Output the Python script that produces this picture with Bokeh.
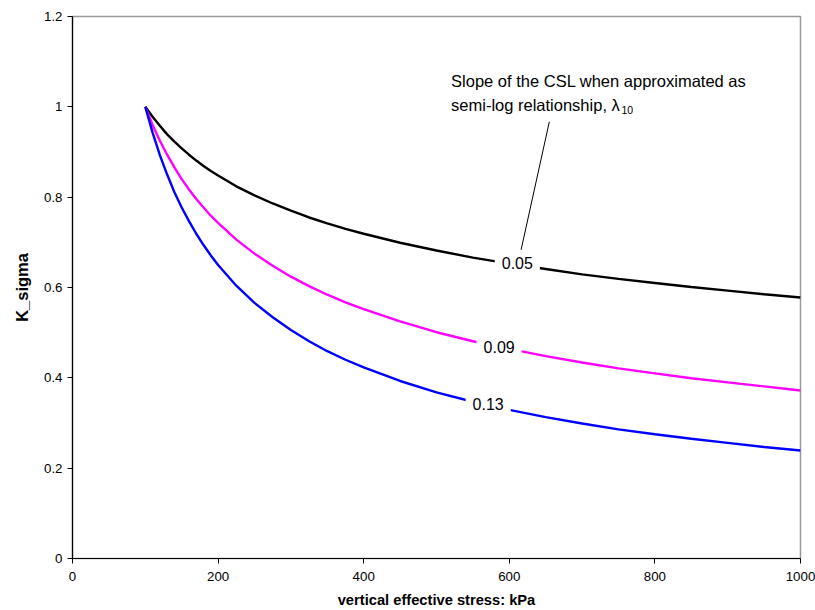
from bokeh.plotting import figure
from bokeh.models import Range1d, Label, FixedTicker, Segment, ColumnDataSource
from bokeh.embed import file_html
from bokeh.resources import INLINE

# Data
stress = [100, 110, 120, 130, 140, 150, 160, 170, 180, 190, 200, 225, 250, 275, 300,
          325, 350, 375, 400, 450, 500, 550, 600, 650, 700, 750, 800, 850, 900, 950, 1000]
k_005 = [1.0, 0.978, 0.958, 0.939, 0.923, 0.908, 0.894, 0.881, 0.869, 0.858, 0.848,
         0.824, 0.804, 0.786, 0.770, 0.755, 0.742, 0.730, 0.719, 0.699, 0.682,
         0.666, 0.653, 0.641, 0.629, 0.619, 0.610, 0.601, 0.593, 0.585, 0.578]
k_009 = [1.0, 0.960, 0.925, 0.894, 0.866, 0.840, 0.817, 0.796, 0.777, 0.759, 0.743,
         0.706, 0.675, 0.648, 0.624, 0.603, 0.584, 0.567, 0.552, 0.525, 0.501,
         0.481, 0.464, 0.448, 0.434, 0.421, 0.410, 0.399, 0.390, 0.381, 0.372]
k_013 = [1.0, 0.943, 0.893, 0.850, 0.811, 0.777, 0.747, 0.719, 0.694, 0.671, 0.650,
         0.604, 0.566, 0.534, 0.506, 0.481, 0.459, 0.440, 0.423, 0.393, 0.368,
         0.347, 0.329, 0.313, 0.299, 0.286, 0.275, 0.265, 0.256, 0.247, 0.239]
series_names = ["0.05", "0.09", "0.13"]
x_ticks = [0, 200, 400, 600, 800, 1000]
y_ticks = [0, 0.2, 0.4, 0.6, 0.8, 1.0, 1.2]

# label anchor positions (data coords)
label_pos = [(611, 0.655), (586, 0.469), (571, 0.341)]
leader = (655, 0.967, 616, 0.682)
note_x = 520
note_lines = [(1.058, "Slope of the CSL when approximated as"),
              (1.003, "semi-log relationship, λ")]
sub_pos = (754, 0.994)
sub_text = "10"

FONT = "Liberation Sans"

p = figure(width=815, height=610, output_backend="svg", toolbar_location=None,
           x_range=Range1d(0, 1000), y_range=Range1d(0, 1.2),
           min_border_left=72, min_border_right=15, min_border_top=16,
           min_border_bottom=52)
p.xgrid.visible = False
p.ygrid.visible = False
p.outline_line_color = "#999999"
p.outline_line_width = 1.5
p.background_fill_color = "white"
p.border_fill_color = "white"

for ax in (p.xaxis[0], p.yaxis[0]):
    ax.axis_line_color = "black"
    ax.axis_line_width = 1.2
    ax.major_tick_in = 0
    ax.major_tick_out = 5
    ax.minor_tick_line_color = None
    ax.major_label_text_font = FONT
    ax.major_label_text_font_size = "13.3px"
    ax.major_label_text_color = "black"
    ax.axis_label_text_font = FONT
    ax.axis_label_text_font_style = "bold"
    ax.axis_label_text_color = "black"

p.xaxis.axis_label_text_font_size = "14.7px"
p.yaxis.axis_label_text_font_size = "16.5px"
p.xaxis.ticker = FixedTicker(ticks=x_ticks)
p.yaxis.ticker = FixedTicker(ticks=y_ticks)
p.yaxis.major_label_overrides = {0: "0", 0.2: "0.2", 0.4: "0.4", 0.6: "0.6",
                                 0.8: "0.8", 1.0: "1", 1.2: "1.2"}
p.xaxis.axis_label = "vertical effective stress: kPa"
p.yaxis.axis_label = "K_sigma"
p.xaxis.major_label_standoff = 8
p.xaxis.axis_label_standoff = 8
p.yaxis.axis_label_standoff = 10

colors = ["black", "#FF00FF", "#0000FF"]
for ys, c in zip([k_005, k_009, k_013], colors):
    p.line(stress, ys, line_color=c, line_width=2.4)

for (lx, ly), name in zip(label_pos, series_names):
    p.add_layout(Label(x=lx, y=ly, text=name, text_align="center",
                       text_baseline="middle", text_font=FONT,
                       text_font_size="16px", text_color="black",
                       background_fill_color="white", padding=7))

src = ColumnDataSource(dict(x0=[leader[0]], y0=[leader[1]], x1=[leader[2]], y1=[leader[3]]))
p.add_glyph(src, Segment(x0="x0", y0="y0", x1="x1", y1="y1",
                         line_color="black", line_width=1))

for ly, t in note_lines:
    p.add_layout(Label(x=note_x, y=ly, text=t, text_align="left",
                       text_baseline="middle", text_font=FONT,
                       text_font_size="16.5px", text_color="black"))
p.add_layout(Label(x=sub_pos[0], y=sub_pos[1], text=sub_text, text_align="left",
                   text_baseline="middle", text_font=FONT,
                   text_font_size="10.5px", text_color="black"))

open("out.html", "w").write(file_html(p, INLINE))
